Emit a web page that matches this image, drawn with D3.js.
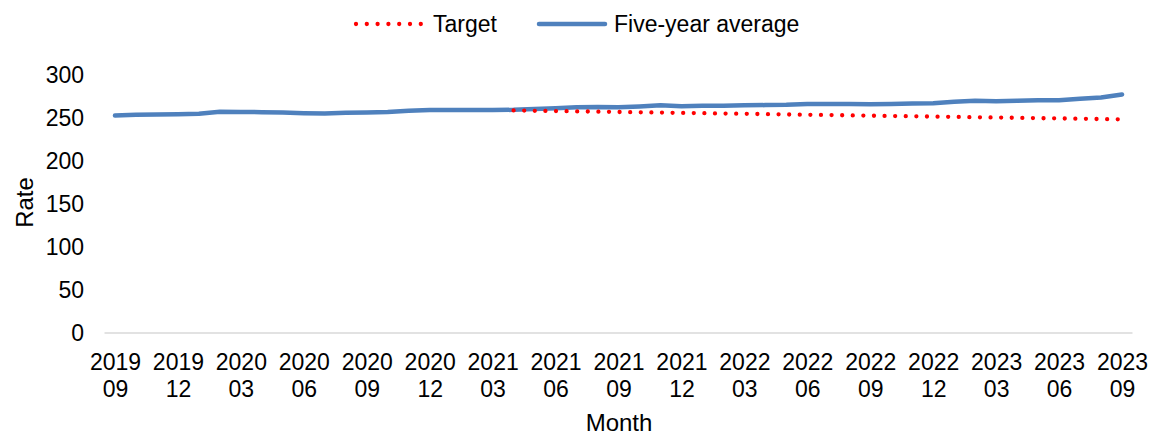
<!DOCTYPE html>
<html>
<head>
<meta charset="utf-8">
<script src="https://cdn.jsdelivr.net/npm/d3@7"></script>
<style>
  html, body { margin: 0; padding: 0; background: #fff; }
  svg { display: block; font-family: Arial, "Liberation Sans", sans-serif; }
</style>
</head>
<body>
<svg id="chart" width="1153" height="436"></svg>
<script>
const months = [
  "2019 09","2019 10","2019 11","2019 12","2020 01","2020 02","2020 03","2020 04","2020 05","2020 06",
  "2020 07","2020 08","2020 09","2020 10","2020 11","2020 12","2021 01","2021 02","2021 03","2021 04",
  "2021 05","2021 06","2021 07","2021 08","2021 09","2021 10","2021 11","2021 12","2022 01","2022 02",
  "2022 03","2022 04","2022 05","2022 06","2022 07","2022 08","2022 09","2022 10","2022 11","2022 12",
  "2023 01","2023 02","2023 03","2023 04","2023 05","2023 06","2023 07","2023 08","2023 09"
];
const fiveYearAverage = [
  252.8, 253.8, 254.0, 254.5, 255.0, 257.3, 257.0, 256.8, 256.3, 255.6,
  255.2, 256.0, 256.4, 257.0, 258.3, 259.3, 259.2, 259.2, 259.3, 259.5,
  260.5, 261.3, 262.4, 262.8, 262.6, 263.5, 264.7, 263.8, 264.2, 264.3,
  264.8, 265.0, 265.3, 266.2, 266.3, 266.3, 266.0, 266.4, 266.8, 267.2,
  268.8, 270.0, 269.6, 270.0, 270.5, 270.6, 272.3, 273.8, 277.4
];
const targetMonths = months.slice(19);
const targetValues = [
  258.8, 258.4, 258.1, 257.7, 257.4, 257.0, 256.6, 256.3, 255.9, 255.6,
  255.2, 254.9, 254.5, 254.1, 253.8, 253.4, 253.1, 252.7, 252.3, 252.0,
  251.6, 251.3, 250.9, 250.6, 250.2, 249.8, 249.5, 249.1, 248.8, 248.4
];
const yTicks = [0, 50, 100, 150, 200, 250, 300];
const tickMonths = months.filter((m, i) => i % 3 === 0);
const seriesNames = ["Target", "Five-year average"];

const FONT = "Arial, 'Liberation Sans', sans-serif";
const svg = d3.select("#chart");
const plotLeft = 104.5, plotRight = 1132.5, plotTop = 75, plotBottom = 333;

const x = d3.scalePoint().domain(months).range([plotLeft, plotRight]).padding(0.5);
const y = d3.scaleLinear().domain([0, 300]).range([plotBottom, plotTop]);

// baseline
svg.append("line")
  .attr("x1", plotLeft).attr("x2", plotRight)
  .attr("y1", y(0)).attr("y2", y(0))
  .attr("stroke", "#d9d9d9").attr("stroke-width", 1.5);

// y axis labels
const yAxis = d3.axisLeft(y).tickValues(yTicks).tickSize(0).tickPadding(0);
const gy = svg.append("g").attr("transform", `translate(84,0)`).call(yAxis);
gy.select(".domain").remove();
gy.selectAll("text").attr("font-size", 23).attr("fill", "#000").attr("font-family", FONT);

// x axis labels (two lines)
const xAxis = d3.axisBottom(x).tickValues(tickMonths).tickSize(0).tickFormat("");
const gx = svg.append("g").attr("transform", `translate(0,${plotBottom})`).call(xAxis);
gx.select(".domain").remove();
gx.selectAll(".tick").each(function(d) {
  const parts = d.split(" ");
  const t = d3.select(this).append("text")
    .attr("text-anchor", "middle").attr("font-size", 23).attr("fill", "#000")
    .attr("font-family", FONT);
  t.append("tspan").attr("x", 0).attr("y", 37).text(parts[0]);
  t.append("tspan").attr("x", 0).attr("y", 63.5).text(parts[1]);
});

// lines
const line = d3.line().x(d => x(d[0])).y(d => y(d[1]));
svg.append("path")
  .datum(months.map((m, i) => [m, fiveYearAverage[i]]))
  .attr("d", line).attr("fill", "none")
  .attr("stroke", "#4f81bd").attr("stroke-width", 4.5)
  .attr("stroke-linejoin", "round").attr("stroke-linecap", "round");

svg.append("path")
  .datum(targetMonths.map((m, i) => [m, targetValues[i]]))
  .attr("d", line).attr("fill", "none")
  .attr("stroke", "#ff0000").attr("stroke-width", 4.3)
  .attr("stroke-dasharray", "0 10.6").attr("stroke-linecap", "round");

// axis titles
svg.append("text").attr("x", 619).attr("y", 431).attr("text-anchor", "middle")
  .attr("font-size", 24).attr("fill", "#000").attr("font-family", FONT).text("Month");
svg.append("text").attr("transform", "translate(32.5,202.5) rotate(-90)")
  .attr("text-anchor", "middle").attr("font-size", 24).attr("fill", "#000")
  .attr("font-family", FONT).text("Rate");

// legend
const lg = svg.append("g");
lg.append("line").attr("x1", 356).attr("x2", 421).attr("y1", 24).attr("y2", 24)
  .attr("stroke", "#ff0000").attr("stroke-width", 4.3)
  .attr("stroke-dasharray", "0 10.8").attr("stroke-linecap", "round");
lg.append("text").attr("x", 433).attr("y", 31.5).attr("font-size", 23).attr("fill", "#000")
  .attr("font-family", FONT).text(seriesNames[0]);
lg.append("line").attr("x1", 539).attr("x2", 605).attr("y1", 24).attr("y2", 24)
  .attr("stroke", "#4f81bd").attr("stroke-width", 4.5).attr("stroke-linecap", "round");
lg.append("text").attr("x", 614).attr("y", 31.5).attr("font-size", 23).attr("fill", "#000")
  .attr("font-family", FONT).text(seriesNames[1]);
</script>
</body>
</html>
